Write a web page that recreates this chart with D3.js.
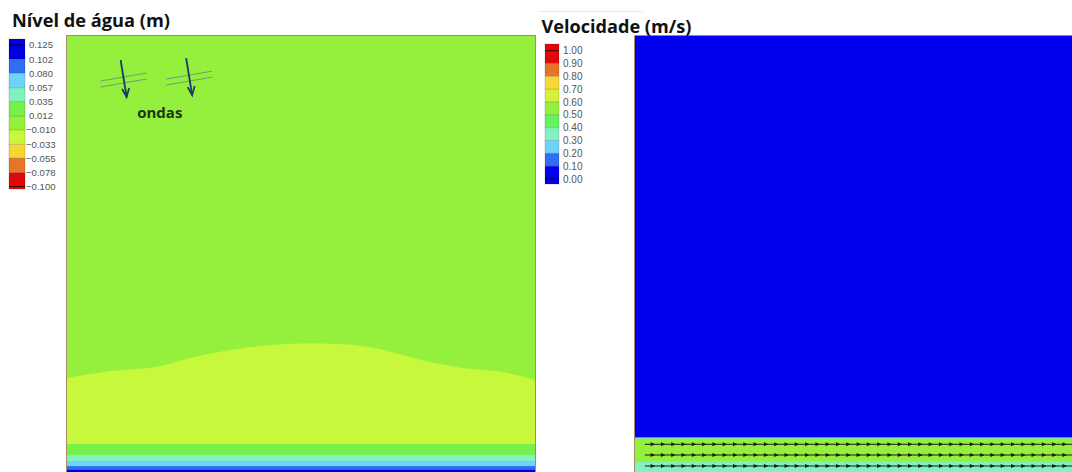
<!DOCTYPE html>
<html>
<head>
<meta charset="utf-8">
<script src="https://d3js.org/d3.v7.min.js"></script>
<style>
  body { margin: 0; background: #fff; }
  svg { display: block; }
</style>
</head>
<body>
<svg width="1072" height="472"></svg>
<script>
// ---------- dados ----------
// legenda do nível de água (m), de cima para baixo
var nivelTicks = [0.125, 0.102, 0.080, 0.057, 0.035, 0.012, -0.010, -0.033, -0.055, -0.078, -0.100];
var nivelCores = ["#0000dc", "#2f6ef0", "#6fd2f8", "#80f2c0", "#78f04a", "#94f03c", "#c8f83c", "#f6d832", "#e8742a", "#e00808"];

// legenda da velocidade (m/s), de cima para baixo
var velTicks = [1.00, 0.90, 0.80, 0.70, 0.60, 0.50, 0.40, 0.30, 0.20, 0.10, 0.00];
var velCores = ["#e00808", "#e8742a", "#f6d832", "#d2f23c", "#94f03c", "#66f064", "#80f2c0", "#6fd2f8", "#2f6ef0", "#0000ee"];

// campo de nível: valor de fundo e crista (limite da zona -0.010 a -0.033)
var campoNivel = 0.0;
var cristaX = [0, 8.5, 20, 27.7, 39, 50.6, 58.2, 65.9, 77.3, 85, 92.6, 100];
var cristaY = [26.9, 28.3, 29.5, 31.5, 33.5, 34.3, 34.2, 33.3, 30.4, 29.0, 28.3, 26.5];
var cristaNivel = -0.02;
// faixas junto à costa: topo (m) e nível
var faixasNivelTopo = [12.8, 10.5, 9.2, 8.1, 7.3];
var faixasNivel = [0.02, 0.045, 0.07, 0.09, 0.11];

// campo de velocidade
var campoVel = 0.03;
var faixasVelTopo = [14.25, 14.0, 9.0];
var faixasVel = [0.25, 0.55, 0.35];
// vetores de velocidade: linhas da malha (m) e espaçamento
var vetLinhasY = [12.76, 10.47, 8.12];
var vetInicio = 2.1, vetPasso = 2.2;

// ondas (anotação)
var ondasX = [12.1, 26.1];
var ondasY = [90.6, 91.0];

// ---------- desenho ----------
var svg = d3.select("svg");
var lado = 468;
var xL = d3.scaleLinear().domain([0, 100]).range([67, 67 + lado]);
var xR = d3.scaleLinear().domain([0, 100]).range([635, 635 + lado]);
var y = d3.scaleLinear().domain([0, 100]).range([36 + lado, 36]);

var corNivel = d3.scaleThreshold()
  .domain(nivelTicks.slice(1, -1).reverse())
  .range(nivelCores.slice().reverse());
var corVel = d3.scaleThreshold()
  .domain(velTicks.slice(1, -1).reverse())
  .range(velCores.slice().reverse());

var defs = svg.append("defs");
defs.append("clipPath").attr("id", "clipL").append("rect")
  .attr("x", xL(0)).attr("y", y(100)).attr("width", lado).attr("height", lado);
defs.append("clipPath").attr("id", "clipR").append("rect")
  .attr("x", xR(0)).attr("y", y(100)).attr("width", lado).attr("height", lado);

// ----- painel esquerdo: nível de água -----
var gL = svg.append("g").attr("clip-path", "url(#clipL)");
gL.append("rect").attr("x", xL(0)).attr("y", y(100)).attr("width", lado).attr("height", lado)
  .attr("fill", corNivel(campoNivel));

var crista = cristaX.map(function(d, i) { return [d, cristaY[i]]; });
gL.append("path")
  .datum(crista)
  .attr("fill", corNivel(cristaNivel))
  .attr("d", d3.area().curve(d3.curveMonotoneX)
    .x(function(d) { return xL(d[0]); })
    .y0(y(faixasNivelTopo[0]))
    .y1(function(d) { return y(d[1]); }));

gL.selectAll("rect.faixa").data(faixasNivelTopo).join("rect").attr("class", "faixa")
  .attr("x", xL(0)).attr("width", lado)
  .attr("y", function(d) { return y(d); })
  .attr("height", function(d) { return y(0) - y(d); })
  .attr("fill", function(d, i) { return corNivel(faixasNivel[i]); });

svg.append("rect").attr("x", xL(0) - 0.5).attr("y", y(100) - 0.5).attr("width", lado + 1).attr("height", lado + 1)
  .attr("fill", "none").attr("stroke", "#a88a66").attr("stroke-width", 1);

// ondas
var gO = svg.append("g");
ondasX.forEach(function(ox, i) {
  var cx = xL(ox), cy = y(ondasY[i]);
  [-3, 3].forEach(function(off) {
    gO.append("line")
      .attr("x1", cx - 23).attr("y1", cy + off + 4)
      .attr("x2", cx + 23).attr("y2", cy + off - 4)
      .attr("stroke", "#6e9e78").attr("stroke-width", 1);
  });
  gO.append("line").attr("x1", cx - 3).attr("y1", cy - 20).attr("x2", cx + 3).attr("y2", cy + 17)
    .attr("stroke", "#1b3a6b").attr("stroke-width", 1.8);
  gO.append("path")
    .attr("d", "M" + (cx - 1.5) + "," + (cy + 9) + "L" + (cx + 3) + "," + (cy + 17) + "L" + (cx + 5.5) + "," + (cy + 8))
    .attr("fill", "none").attr("stroke", "#1b3a6b").attr("stroke-width", 1.8);
});
svg.append("text").attr("x", xL(15)).attr("y", y(82.5))
  .attr("font-family", "'Open Sans', sans-serif").attr("font-weight", 700).attr("font-size", 15)
  .attr("fill", "#1f3418").text("ondas");

// ----- painel direito: velocidade -----
var gR = svg.append("g").attr("clip-path", "url(#clipR)");
gR.append("rect").attr("x", xR(0)).attr("y", y(100)).attr("width", lado).attr("height", lado)
  .attr("fill", corVel(campoVel));
gR.selectAll("rect.faixa").data(faixasVelTopo).join("rect").attr("class", "faixa")
  .attr("x", xR(0)).attr("width", lado)
  .attr("y", function(d) { return y(d); })
  .attr("height", function(d) { return y(0) - y(d); })
  .attr("fill", function(d, i) { return corVel(faixasVel[i]); });

var vetX = d3.range(vetInicio, 100, vetPasso);
vetLinhasY.forEach(function(vy) {
  var row = gR.append("g");
  row.selectAll("line").data(vetX).join("line")
    .attr("x1", function(d) { return xR(d); })
    .attr("x2", function(d) { return xR(d + vetPasso); })
    .attr("y1", y(vy)).attr("y2", y(vy))
    .attr("stroke", "#1a1a1a").attr("stroke-width", 1);
  row.selectAll("path").data(vetX).join("path")
    .attr("d", function(d) {
      var tx = xR(d + vetPasso), ty = y(vy);
      return "M" + tx + "," + ty + "L" + (tx - 4.5) + "," + (ty - 2) + "L" + (tx - 4.5) + "," + (ty + 2) + "Z";
    })
    .attr("fill", "#1a1a1a");
});

svg.append("path")
  .attr("d", "M" + (xR(0) - 0.5) + "," + 472 + "V" + (y(100) - 0.5) + "H" + 1072)
  .attr("fill", "none").attr("stroke", "#a88a66").attr("stroke-width", 1);

// ----- legendas -----
function legenda(ticks, cores, x0, w, yTop, yBot, yFirst, yLast, fmt, fs, negX) {
  var ly = d3.scaleLinear().domain([ticks[0], ticks[ticks.length - 1]]).range([yFirst, yLast]);
  var g = svg.append("g");
  var segs = cores.map(function(c, i) {
    return { c: c, a: i === 0 ? yTop : ly(ticks[i]), b: i === cores.length - 1 ? yBot : ly(ticks[i + 1]) };
  });
  g.selectAll("rect").data(segs).join("rect")
    .attr("x", x0).attr("width", w)
    .attr("y", function(d) { return d.a; })
    .attr("height", function(d) { return d.b - d.a; })
    .attr("fill", function(d) { return d.c; });
  g.selectAll("line").data(ticks).join("line")
    .attr("x1", x0).attr("x2", x0 + w)
    .attr("y1", function(d) { return ly(d); }).attr("y2", function(d) { return ly(d); })
    .attr("stroke", "#000")
    .attr("stroke-opacity", function(d, i) { return (i === 0 || i === ticks.length - 1) ? 0.7 : 0.18; });
  g.append("rect").attr("x", x0).attr("y", yTop).attr("width", w).attr("height", yBot - yTop)
    .attr("fill", "none").attr("stroke", "#000").attr("stroke-opacity", 0.15);
  g.selectAll("text").data(ticks).join("text")
    .attr("x", function(d) { return d < 0 ? negX : x0 + w + 4; })
    .attr("y", function(d) { return ly(d); })
    .attr("dy", "0.35em")
    .attr("font-family", "'Liberation Sans', Arial, sans-serif")
    .attr("font-size", fs).attr("fill", "#555")
    .text(function(d) { return fmt(d); });
}
legenda(nivelTicks, nivelCores, 9, 16, 39, 189, 45, 186.5, d3.format(".3f"), 9.6, 26);
legenda(velTicks, velCores, 545, 14, 44, 184, 50.7, 179, d3.format(".2f"), 10, 566);

// ----- títulos -----
function titulo(txt, x, yb, alvo) {
  var t = svg.append("text").attr("x", x).attr("y", yb)
    .attr("font-family", "'Open Sans', sans-serif").attr("font-weight", 700).attr("font-size", 18)
    .attr("fill", "#111").text(txt);
  var w = t.node().getComputedTextLength();
  t.attr("font-size", 18 * alvo / w);
}
titulo("Nível de água (m)", 12, 27, 158);
titulo("Velocidade (m/s)", 541.5, 33, 150);
svg.append("line").attr("x1", 540).attr("x2", 643).attr("y1", 11.5).attr("y2", 11.5)
  .attr("stroke", "#e6e6e6");
</script>
</body>
</html>
